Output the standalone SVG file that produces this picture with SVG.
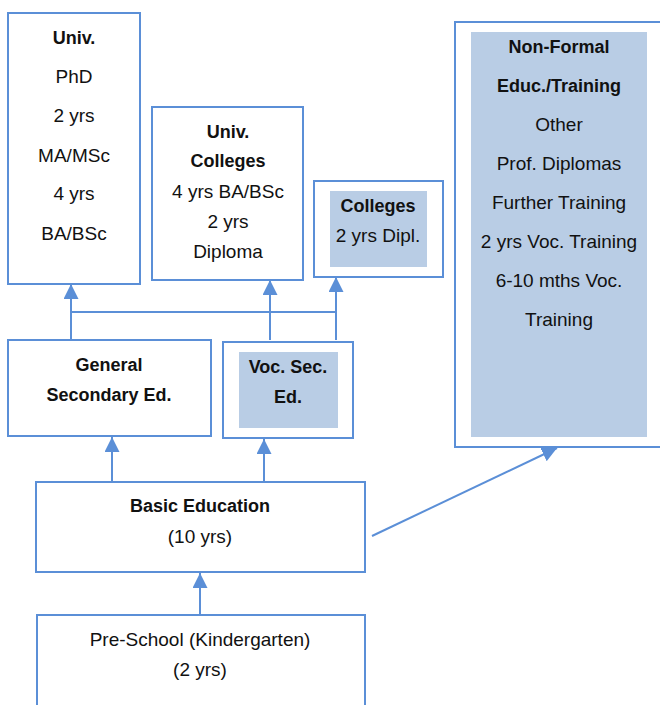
<svg xmlns="http://www.w3.org/2000/svg" width="660" height="705" viewBox="0 0 660 705">
<style>
.box{fill:#ffffff;stroke:#5B8FD7;stroke-width:2}
.shade{fill:#B9CDE5;stroke:none}
.ln{fill:none;stroke:#5B8FD7;stroke-width:2}
text{font-family:"Liberation Sans",Arial,sans-serif;font-size:19px;fill:#111111;text-anchor:middle}
.b{font-weight:bold;font-size:18px}
</style>
<defs>
<marker id="arr" markerUnits="userSpaceOnUse" markerWidth="16" markerHeight="16" refX="15" refY="7.5" orient="auto">
<path d="M0,0 L15,7.5 L0,15 Z" fill="#5B8FD7"/>
</marker>
</defs>
<rect width="660" height="705" fill="#ffffff"/>
<g id="univ">
<rect class="box" x="8" y="13" width="132" height="271"/>
<text class="b" x="74" y="44">Univ.</text>
<text x="74" y="83">PhD</text>
<text x="74" y="122">2 yrs</text>
<text x="74" y="162">MA/MSc</text>
<text x="74" y="200">4 yrs</text>
<text x="74" y="240">BA/BSc</text>
</g>
<g id="univ-colleges">
<rect class="box" x="152" y="107" width="151" height="173"/>
<text class="b" x="228" y="138">Univ.</text>
<text class="b" x="228" y="167">Colleges</text>
<text x="228" y="198">4 yrs BA/BSc</text>
<text x="228" y="228">2 yrs</text>
<text x="228" y="258">Diploma</text>
</g>
<g id="colleges">
<rect class="box" x="314" y="181" width="129" height="96"/>
<rect class="shade" x="330" y="191" width="97" height="76"/>
<text class="b" x="378" y="212">Colleges</text>
<text x="378" y="242">2 yrs Dipl.</text>
</g>
<g id="non-formal">
<rect class="box" x="455" y="22" width="215" height="425"/>
<rect class="shade" x="471" y="32" width="176" height="405"/>
<text class="b" x="559" y="53">Non-Formal</text>
<text class="b" x="559" y="92">Educ./Training</text>
<text x="559" y="131">Other</text>
<text x="559" y="170">Prof. Diplomas</text>
<text x="559" y="209">Further Training</text>
<text x="559" y="248">2 yrs Voc. Training</text>
<text x="559" y="287">6-10 mths Voc.</text>
<text x="559" y="326">Training</text>
</g>
<g id="general-secondary">
<rect class="box" x="8" y="340" width="203" height="96"/>
<text class="b" x="109" y="371">General</text>
<text class="b" x="109" y="401">Secondary Ed.</text>
</g>
<g id="voc-secondary">
<rect class="box" x="223" y="342" width="130" height="96"/>
<rect class="shade" x="239" y="352" width="99" height="76"/>
<text class="b" x="288" y="373">Voc. Sec.</text>
<text class="b" x="288" y="403">Ed.</text>
</g>
<g id="basic">
<rect class="box" x="36" y="482" width="329" height="90"/>
<text class="b" x="200" y="512">Basic Education</text>
<text x="200" y="543">(10 yrs)</text>
</g>
<g id="pre-school">
<rect class="box" x="37" y="615" width="328" height="100"/>
<text x="200" y="646">Pre-School (Kindergarten)</text>
<text x="200" y="676">(2 yrs)</text>
</g>
<g id="connectors">
<line class="ln" x1="71" y1="340" x2="71" y2="284" marker-end="url(#arr)"/>
<line class="ln" x1="71" y1="312" x2="336" y2="312"/>
<line class="ln" x1="270" y1="340" x2="270" y2="280" marker-end="url(#arr)"/>
<line class="ln" x1="336" y1="340" x2="336" y2="277" marker-end="url(#arr)"/>
<line class="ln" x1="112" y1="482" x2="112" y2="437" marker-end="url(#arr)"/>
<line class="ln" x1="264" y1="482" x2="264" y2="439" marker-end="url(#arr)"/>
<line class="ln" x1="200" y1="615" x2="200" y2="573" marker-end="url(#arr)"/>
<line class="ln" x1="372" y1="536" x2="557" y2="448" marker-end="url(#arr)"/>
</g>
</svg>
